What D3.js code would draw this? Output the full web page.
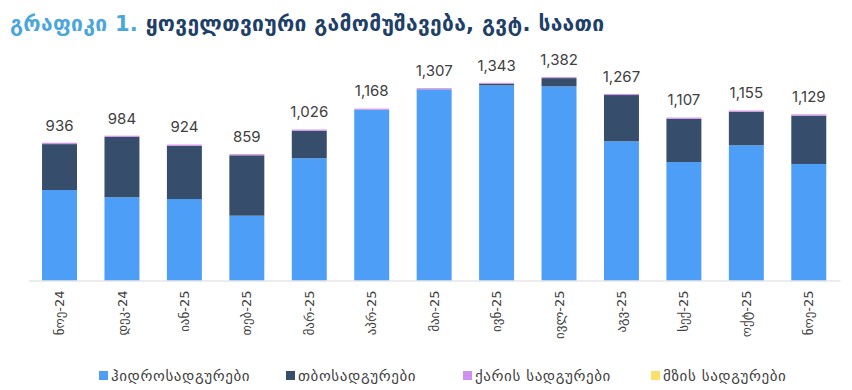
<!DOCTYPE html>
<html>
<head>
<meta charset="utf-8">
<script src="https://cdn.jsdelivr.net/npm/d3@7"></script>
<style>
  html, body { margin: 0; padding: 0; background: #ffffff; }
  svg { display: block; font-family: "DejaVu Sans", "Noto Sans", sans-serif; }
</style>
</head>
<body>
<svg id="chart" width="852" height="390"></svg>
<script>
const months = ["ნოე-24","დეკ-24","იან-25","თებ-25","მარ-25","აპრ-25","მაი-25","ივნ-25","ივლ-25","აგვ-25","სექ-25","ოქტ-25","ნოე-25"];
const hydro   = [614, 565, 553, 440, 830, 1158, 1297, 1325, 1318, 945, 804, 918, 791];
const thermal = [312, 410, 361, 410, 186, 1, 1, 10, 56, 314, 294, 228, 328];
const wind    = [9, 8, 9, 8, 9, 8, 8, 7, 7, 7, 8, 8, 9];
const solar   = [1, 1, 1, 1, 1, 1, 1, 1, 1, 1, 1, 1, 1];
const seriesNames = ["ჰიდროსადგურები","თბოსადგურები","ქარის სადგურები","მზის სადგურები"];
const seriesKeys = ["hydro","thermal","wind","solar"];
const colors = ["#4d9ef7","#364e6c","#cf90f0","#fbe06a"];

const rows = months.map((m, i) => ({month: m, hydro: hydro[i], thermal: thermal[i], wind: wind[i], solar: solar[i]}));
const totals = rows.map(r => r.hydro + r.thermal + r.wind + r.solar);

const svg = d3.select("#chart");

// Title
const title = svg.append("text").attr("x", 10).attr("y", 31)
  .style("font-size", "21px").style("font-weight", "bold").style("letter-spacing", "0.3px");
title.append("tspan").attr("fill", "#4aa6dc").text("გრაფიკი 1. ");
title.append("tspan").attr("fill", "#1e4068").text("ყოველთვიური გამომუშავება, გვტ. საათი");

const x = d3.scaleBand().domain(months).range([28.3, 840]).paddingInner(0.44).paddingOuter(0.22);
const y = d3.scaleLinear().domain([0, 1400]).range([280.5, 280.5 - 1400 * 0.1473]);

const stacked = d3.stack().keys(seriesKeys)(rows);

svg.append("g").selectAll("g").data(stacked).join("g")
  .attr("fill", (d, i) => colors[i])
  .selectAll("rect").data(d => d).join("rect")
  .attr("x", d => x(d.data.month))
  .attr("width", x.bandwidth())
  .attr("y", d => y(d[1]))
  .attr("height", d => Math.max(0, y(d[0]) - y(d[1])));

// baseline axis
const xAxis = d3.axisBottom(x).tickSize(0).tickPadding(0);
const ax = svg.append("g").attr("transform", "translate(0,280.5)").call(xAxis);
ax.select(".domain").attr("stroke", "#d9d9d9").attr("stroke-width", 1);
ax.selectAll(".tick text")
  .attr("transform", "rotate(-90)")
  .attr("x", -10).attr("y", 0).attr("dy", "0.35em")
  .style("text-anchor", "end")
  .style("font-size", "13px")
  .style("font-family", "'DejaVu Sans', sans-serif")
  .attr("fill", "#404040");

// value labels
svg.append("g").selectAll("text").data(rows).join("text")
  .attr("x", d => x(d.month) + x.bandwidth() / 2)
  .attr("y", (d, i) => y(totals[i]) - 12)
  .attr("text-anchor", "middle")
  .style("font-family", "Inter, 'Open Sans', sans-serif")
  .style("font-size", "15px")
  .attr("fill", "#404040")
  .text((d, i) => d3.format(",")(totals[i]));

// legend
const legendX = [99, 286, 463, 651];
const lg = svg.append("g").selectAll("g").data(seriesNames).join("g")
  .attr("transform", (d, i) => `translate(${legendX[i]},371)`);
lg.append("rect").attr("width", 9).attr("height", 9).attr("fill", (d, i) => colors[i]);
lg.append("text").attr("x", 12).attr("y", 9.5)
  .style("font-size", "15px").style("letter-spacing", "0.6px")
  .attr("fill", "#404040").text(d => d);
</script>
</body>
</html>
